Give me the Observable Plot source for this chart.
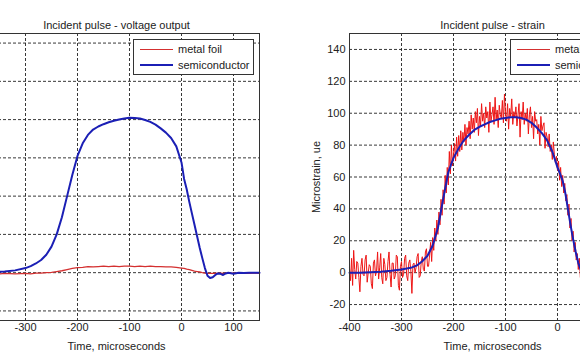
<!DOCTYPE html>
<html>
<head>
<meta charset="utf-8">
<script src="https://cdn.jsdelivr.net/npm/d3@7"></script>
<script src="https://cdn.jsdelivr.net/npm/@observablehq/plot@0.6"></script>
<style>
  html, body { margin: 0; padding: 0; background: #fff; }
  #wrap { position: relative; width: 580px; height: 359px; overflow: hidden; background: #fff;
          font-family: "Liberation Sans", Arial, sans-serif; }
  .panel { position: absolute; top: 0; }
</style>
</head>
<body>
<div id="wrap"></div>
<script>
// ---------- data ----------
const titleLeft = "Incident pulse - voltage output";
const titleRight = "Incident pulse - strain";
const xLabel = "Time, microseconds";
const yLabelRight = "Microstrain, ue";
const legendLabels = ["metal foil", "semiconductor"];

const xGridTicks = [-400, -300, -200, -100, 0, 100];
const xLabelTicksLeft = [-300, -200, -100, 0, 100];
const xLabelTicksRight = [-400, -300, -200, -100, 0];
const yTicksLeft = [-1, 0, 1, 2, 3, 4, 5, 6];
const yTicksRight = [-20, 0, 20, 40, 60, 80, 100, 120, 140];

// voltage output (left panel)
const tV = [-400,-380,-360,-340,-320,-300,-290,-280,-270,-260,-250,-240,-230,-220,-210,-200,-190,-180,-170,-160,
  -150,-140,-130,-120,-110,-100,-90,-80,-70,-60,-50,-40,-30,-20,-10,0,5,10,15,20,
  25,30,35,40,45,50,55,60,65,70,75,80,85,90,100,110,120,130,140,150];
const semiV = [0,0,0.02,0.03,0.06,0.12,0.17,0.24,0.33,0.47,0.68,1.0,1.45,2.0,2.55,3.05,3.38,3.6,3.74,3.82,
  3.88,3.93,3.97,4.0,4.03,4.05,4.04,4.03,3.99,3.94,3.87,3.77,3.66,3.52,3.3,2.88,2.45,2.18,1.85,1.55,
  1.25,0.95,0.65,0.38,0.12,-0.08,-0.14,-0.12,-0.06,-0.02,-0.03,-0.06,-0.02,0,-0.03,0,-0.01,0,0,0];
const foilV = [-0.03,-0.02,-0.04,-0.02,-0.03,-0.02,-0.03,-0.01,-0.01,0,0.01,0.03,0.05,0.08,0.11,0.13,0.14,0.16,0.15,0.16,
  0.17,0.16,0.17,0.16,0.17,0.17,0.16,0.17,0.16,0.17,0.16,0.16,0.15,0.15,0.14,0.12,0.11,0.09,0.08,0.06,
  0.04,0.03,0.02,0,-0.01,-0.02,-0.02,-0.02,-0.01,-0.02,-0.01,-0.02,-0.01,-0.02,-0.01,-0.02,-0.01,-0.02,-0.01,-0.02];

// strain (right panel)
const tS = [-400,-380,-360,-340,-320,-300,-290,-280,-270,-260,-250,-240,-230,-220,-210,-200,-190,-180,-170,-160,
  -150,-140,-130,-120,-110,-100,-90,-80,-70,-60,-50,-40,-30,-20,-10,0,5,10,15,20,
  25,30,35,40,45,50,55,60,70,80,90,100,120,150];
const semiS = [0,0,0.3,0.6,1.2,2,2.6,3.3,4.6,7.2,10.6,17,28,46,63,72,78,83,86.5,89.5,
  91.5,93,94.5,95.5,96.5,97,97.5,97.5,97,96,94,91,87.5,83,76,66,62,57.5,50,40,
  30,21,13,6,1.5,-2,-3.5,-3,-0.5,-1.5,0,-0.5,0,0];
const tR = [
  -400,-398,-396,-394,-392,-390,-388,-386,-384,-382,
  -380,-378,-376,-374,-372,-370,-368,-366,-364,-362,
  -360,-358,-356,-354,-352,-350,-348,-346,-344,-342,
  -340,-338,-336,-334,-332,-330,-328,-326,-324,-322,
  -320,-318,-316,-314,-312,-310,-308,-306,-304,-302,
  -300,-298,-296,-294,-292,-290,-288,-286,-284,-282,
  -280,-278,-276,-274,-272,-270,-268,-266,-264,-262,
  -260,-258,-256,-254,-252,-250,-248,-246,-244,-242,
  -240,-238,-236,-234,-232,-230,-228,-226,-224,-222,
  -220,-218,-216,-214,-212,-210,-208,-206,-204,-202,
  -200,-198,-196,-194,-192,-190,-188,-186,-184,-182,
  -180,-178,-176,-174,-172,-170,-168,-166,-164,-162,
  -160,-158,-156,-154,-152,-150,-148,-146,-144,-142,
  -140,-138,-136,-134,-132,-130,-128,-126,-124,-122,
  -120,-118,-116,-114,-112,-110,-108,-106,-104,-102,
  -100,-98,-96,-94,-92,-90,-88,-86,-84,-82,
  -80,-78,-76,-74,-72,-70,-68,-66,-64,-62,
  -60,-58,-56,-54,-52,-50,-48,-46,-44,-42,
  -40,-38,-36,-34,-32,-30,-28,-26,-24,-22,
  -20,-18,-16,-14,-12,-10,-8,-6,-4,-2,
  0,2,4,6,8,10,12,14,16,18,
  20,22,24,26,28,30,32,34,36,38,
  40,42,44,46,48,50,52,54,56,58,
  60,70,80,90,100,110,120,130,140,150];
const foilS = [
  3,-5,9,-8,14,2,-4,7,6,-3,
  -12,4,9,-1,-2,8,11,-6,0,5,
  4,-7,-10,6,8,-2,1,13,-4,3,
  12,-3,-7,9,5,-5,-3,7,13,-1,
  -9,6,6,-4,-2,11,10,-8,-11,4,
  7,-3,-1,9,11,-2,-5,6,8,1,
  -13,5,6,0,3,10,12,-3,-2,7,
  10,2,1,13,15,4,4,11,19,7,
  22,14,28,20,33,24,38,30,46,36,
  52,43,61,50,66,55,76,62,80,67,
  74,81,70,85,73,86,76,89,77,88,
  82,93,80,91,87,95,84,99,90,97,
  88,101,94,103,86,98,92,106,95,100,
  91,104,97,101,88,107,95,99,104,93,
  110,96,102,91,105,99,97,108,94,112,
  100,95,106,90,103,98,109,93,101,97,
  104,92,99,106,85,101,96,107,93,100,
  95,103,87,99,104,91,98,84,101,95,
  96,87,93,80,98,89,92,94,78,88,
  85,79,87,76,80,71,82,74,69,73,
  64,70,58,66,54,61,50,56,45,49,
  36,43,28,34,20,26,13,19,8,12,
  2,9,-3,4,-6,1,-5,2,-7,0,
  -3,4,-6,3,-4,5,-3,2,-5,1];

// ---------- build ----------
const RED = "#ee1515", RED_L = "#d43030", BLUE = "#1b1fb5";
const FW = 286, FH = 287, ML = 50, MR = 10, MT = 33, MB = 39;
const wrap = document.getElementById("wrap");
const fmt = d => String(d);
const gridStyle = {stroke: "#222", strokeOpacity: 0.9, strokeWidth: 1, strokeDasharray: "3,2"};
const baseStyle = {fontFamily: '"Liberation Sans", Arial, sans-serif', fontSize: "11px", color: "#222", background: "transparent", overflow: "visible"};

const vSemi = tV.map((t, i) => ({t, v: semiV[i]}));
const vFoil = tV.map((t, i) => ({t, v: foilV[i]}));
const sSemi = tS.map((t, i) => ({t, v: semiS[i]}));
const sFoil = tR.map((t, i) => ({t, v: foilS[i]}));

const left = Plot.plot({
  width: ML + FW + MR, height: MT + FH + MB,
  marginLeft: ML, marginRight: MR, marginTop: MT, marginBottom: MB,
  style: baseStyle,
  x: {domain: [-400, 150]},
  y: {domain: [-1.25, 6.25], axis: null},
  marks: [
    Plot.gridX(xGridTicks, gridStyle),
    Plot.gridY(yTicksLeft, gridStyle),
    Plot.line(vFoil, {x: "t", y: "v", stroke: RED_L, strokeWidth: 1.3}),
    Plot.line(vSemi, {x: "t", y: "v", stroke: BLUE, strokeWidth: 2}),
    Plot.frame({stroke: "#333"}),
    Plot.axisX(xLabelTicksLeft, {tickSize: 0, tickPadding: 3, tickFormat: fmt, label: xLabel,
      labelAnchor: "center", labelArrow: "none", labelOffset: 29}),
    Plot.text([titleLeft], {frameAnchor: "top", dy: -12, text: d => d, fontSize: 11, fill: "#222"})
  ]
});
left.classList.add("panel");
left.style.left = (-27 - ML) + "px";
wrap.appendChild(left);

const right = Plot.plot({
  width: ML + FW + MR, height: MT + FH + MB,
  marginLeft: ML, marginRight: MR, marginTop: MT, marginBottom: MB,
  style: baseStyle,
  x: {domain: [-400, 150]},
  y: {domain: [-30, 150]},
  marks: [
    Plot.gridX(xGridTicks, gridStyle),
    Plot.gridY(yTicksRight, gridStyle),
    Plot.line(sFoil, {x: "t", y: "v", stroke: RED, strokeWidth: 1}),
    Plot.line(sSemi, {x: "t", y: "v", stroke: BLUE, strokeWidth: 2}),
    Plot.frame({stroke: "#333"}),
    Plot.axisX(xLabelTicksRight, {tickSize: 0, tickPadding: 3, tickFormat: fmt, label: xLabel,
      labelAnchor: "center", labelArrow: "none", labelOffset: 29}),
    Plot.axisY(yTicksRight, {tickSize: 0, tickPadding: 4, tickFormat: fmt, label: yLabelRight,
      labelAnchor: "center", labelArrow: "none", labelOffset: 37}),
    Plot.text([titleRight], {frameAnchor: "top", dy: -12, text: d => d, fontSize: 11, fill: "#222"})
  ]
});
right.classList.add("panel");
right.style.left = (349 - ML) + "px";
wrap.appendChild(right);

// ---------- legends ----------
const legendColors = [RED_L, BLUE];
const legendWidths = [1, 2];
function addLegend(x) {
  const box = document.createElement("div");
  box.style.cssText = `position:absolute;left:${x}px;top:39px;width:121px;height:36px;box-sizing:border-box;border:1px solid #333;background:#fff;`;
  legendLabels.forEach((lab, i) => {
    const cy = 9 + i * 16;
    const ln = document.createElement("div");
    ln.style.cssText = `position:absolute;left:6px;top:${cy - legendWidths[i] / 2}px;width:33px;height:${legendWidths[i]}px;background:${legendColors[i]};`;
    const tx = document.createElement("div");
    tx.textContent = lab;
    tx.style.cssText = `position:absolute;left:44px;top:${cy - 7}px;line-height:14px;font-size:11px;color:#222;white-space:nowrap;`;
    box.appendChild(ln);
    box.appendChild(tx);
  });
  wrap.appendChild(box);
}
addLegend(133);
addLegend(510);
</script>
</body>
</html>
